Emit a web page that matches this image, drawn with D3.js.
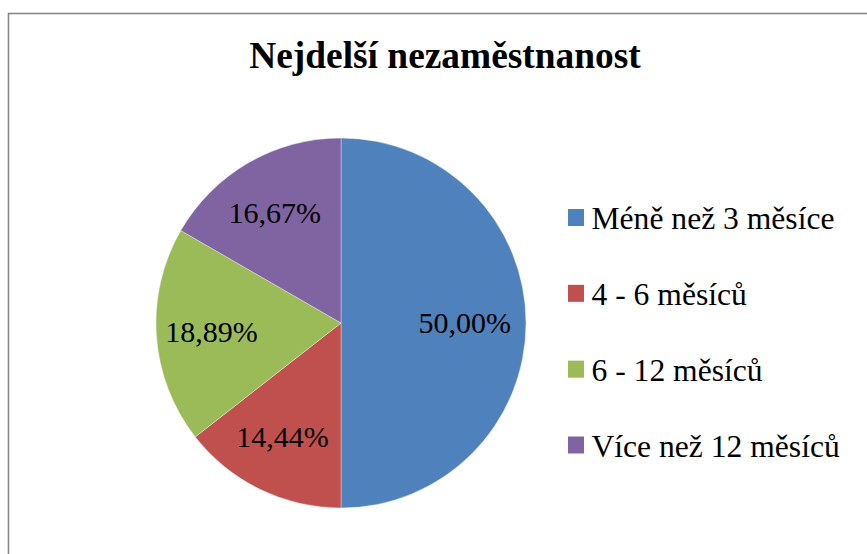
<!DOCTYPE html>
<html>
<head>
<meta charset="utf-8">
<script src="https://cdn.jsdelivr.net/npm/d3@7/dist/d3.min.js"></script>
<style>
html,body{margin:0;padding:0;background:#fff;}
svg{display:block;}
</style>
</head>
<body>
<svg id="chart" width="867" height="554"></svg>
<script>
const title = "Nejdelší nezaměstnanost";
const categories = ["Méně než 3 měsíce", "4 - 6 měsíců", "6 - 12 měsíců", "Více než 12 měsíců"];
const values = [50.00, 14.44, 18.89, 16.67];
const colors = ["#4F81BD", "#C0504D", "#9BBB59", "#8064A2"];

const FONT = '"Liberation Serif"';
const svg = d3.select("#chart");

// chart border (clipped by window on right/bottom)
svg.append("rect")
  .attr("x", 8.5).attr("y", 13.5)
  .attr("width", 900).attr("height", 600)
  .attr("fill", "#fff").attr("stroke", "#878787").attr("stroke-width", 1.6);

svg.append("text")
  .attr("x", 445).attr("y", 68)
  .attr("text-anchor", "middle")
  .style("font-family", FONT)
  .style("font-weight", "bold").style("font-size", "37.4px")
  .attr("fill", "#000")
  .text(title);

const cx = 341, cy = 323, r = 185;
const pie = d3.pie().sort(null).value(d => d);
const arcs = pie(values);
const arc = d3.arc().innerRadius(0).outerRadius(r);
const labelArc = d3.arc().innerRadius(r * 0.685).outerRadius(r * 0.685);

const g = svg.append("g").attr("transform", `translate(${cx},${cy})`);
g.selectAll("path.slice").data(arcs).enter().append("path")
  .attr("class", "slice")
  .attr("d", arc)
  .attr("fill", (d, i) => colors[i])
  .attr("stroke", "#fff").attr("stroke-width", 0.6).attr("stroke-opacity", 0.6);

const fmt = v => v.toFixed(2).replace(".", ",") + "%";
g.selectAll("text.lbl").data(arcs).enter().append("text")
  .attr("class", "lbl")
  .attr("x", d => labelArc.centroid(d)[0] - 3)
  .attr("y", d => labelArc.centroid(d)[1] + 10)
  .attr("text-anchor", "middle")
  .style("font-family", FONT)
  .style("font-size", "30px").attr("fill", "#000")
  .text(d => fmt(d.data));

// legend
const legY = d3.scalePoint().domain(categories).range([217.5, 445]);
const leg = svg.append("g");
leg.selectAll("rect").data(categories).enter().append("rect")
  .attr("x", 568).attr("y", d => legY(d) - 8.5)
  .attr("width", 16).attr("height", 17)
  .attr("fill", (d, i) => colors[i]);
leg.selectAll("text").data(categories).enter().append("text")
  .attr("x", 591.5).attr("y", d => legY(d) + 11.5)
  .style("font-family", FONT)
  .style("font-size", "31.6px").attr("fill", "#000")
  .text(d => d);
</script>
</body>
</html>
